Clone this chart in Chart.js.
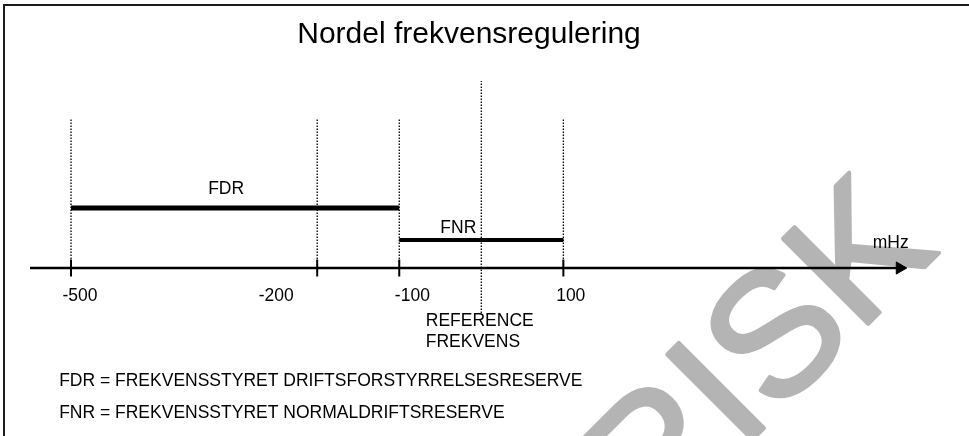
<!DOCTYPE html>
<html>
<head>
<meta charset="utf-8">
<script src="https://cdn.jsdelivr.net/npm/chart.js@4"></script>
<style>
  html, body { margin: 0; padding: 0; background: #fff; }
  #wrap { position: relative; width: 969px; height: 436px; overflow: hidden; }
  #NordelChart { position: absolute; left: 0; top: 0; }
  #frame { position: absolute; left: 3px; top: 4px; right: -10px; bottom: -10px;
           border-top: 2px solid #1c1c1c; border-left: 2px solid #1c1c1c; pointer-events: none; }
</style>
</head>
<body>
<div id="wrap">
  <canvas id="NordelChart" width="969" height="436"></canvas>
  <div id="frame"></div>
</div>
<script>
// frequency axis, mHz
var tickValues = [-500, -200, -100, 100];
var tickLabels = ['-500', '-200', '-100', '100'];
var tickLabelCentres = [-489, -250, -84, 109]; // labels sit a little off their ticks in the original
var referenceValue = 0;
var axisFrom = -550;
var axisTo = 510;

// reserve bands
var reserveNames = ['FDR', 'FNR'];
var reserveFrom = [-500, -100];
var reserveTo = [-100, 100];
var reserveLevel = [6, 2.8];
var reserveLabelX = [-311, -28];
var reserveLabelLevel = [7.9, 3.95];

var footnotes = [
  'FDR = FREKVENSSTYRET DRIFTSFORSTYRRELSESRESERVE',
  'FNR = FREKVENSSTYRET NORMALDRIFTSRESERVE'
];
var referenceText = ['REFERENCE', 'FREKVENS'];
var unitText = 'mHz';
var watermarkText = 'HISTORISK';

var FONT = '"Liberation Sans", Arial, sans-serif';

var datasets = [];

// main axis with arrow head
datasets.push({
  data: [{x: axisFrom, y: 0}, {x: axisTo, y: 0}],
  showLine: true,
  borderColor: '#000',
  borderWidth: 2.5,
  pointRadius: [0, 7],
  pointStyle: 'triangle',
  pointRotation: 90,
  pointBackgroundColor: '#000',
  pointBorderColor: '#000',
  pointBorderWidth: 1
});

// tick marks
datasets.push({
  data: tickValues.map(function (v) { return {x: v, y: 0}; }),
  showLine: false,
  pointStyle: 'line',
  pointRotation: 90,
  pointRadius: 8.5,
  pointBorderWidth: 2,
  pointBorderColor: '#000'
});

// reserve bars
reserveNames.forEach(function (name, i) {
  datasets.push({
    label: name,
    data: [{x: reserveFrom[i], y: reserveLevel[i]}, {x: reserveTo[i], y: reserveLevel[i]}],
    showLine: true,
    borderColor: '#000',
    borderWidth: i === 0 ? 5 : 4,
    borderCapStyle: 'butt',
    pointRadius: 0
  });
});

// dotted guides
tickValues.forEach(function (v) {
  datasets.push({
    data: [{x: v, y: 0}, {x: v, y: 15}],
    showLine: true,
    borderColor: '#000',
    borderWidth: 1.3,
    borderDash: [1.5, 1.5],
    pointRadius: 0
  });
});
datasets.push({
  data: [{x: referenceValue, y: -4.5}, {x: referenceValue, y: 18.7}],
  showLine: true,
  borderColor: '#000',
  borderWidth: 1.3,
  borderDash: [1.5, 1.5],
  pointRadius: 0
});

var textPlugin = {
  id: 'diagramText',
  beforeDatasetsDraw: function (chart) {
    var ctx = chart.ctx;
    ctx.save();
    ctx.translate(741, 451);
    ctx.rotate(-Math.PI / 4);
    ctx.font = '175px ' + FONT;
    ctx.fillStyle = '#b4b4b4';
    ctx.strokeStyle = '#b4b4b4';
    ctx.lineWidth = 4;
    ctx.lineJoin = 'round';
    ctx.textBaseline = 'alphabetic';
    ctx.textAlign = 'left';
    var off = ctx.measureText(watermarkText.slice(0, 6)).width;
    ctx.fillText(watermarkText, -off, 0);
    ctx.strokeText(watermarkText, -off, 0);
    ctx.restore();
  },
  afterDatasetsDraw: function (chart) {
    var ctx = chart.ctx, xs = chart.scales.x, ys = chart.scales.y;
    ctx.save();
    ctx.fillStyle = '#000';
    ctx.font = '17.5px ' + FONT;
    ctx.textBaseline = 'middle';
    ctx.textAlign = 'center';
    tickLabels.forEach(function (t, i) {
      ctx.fillText(t, xs.getPixelForValue(tickLabelCentres[i]), ys.getPixelForValue(-2.8));
    });
    reserveNames.forEach(function (t, i) {
      ctx.fillText(t, xs.getPixelForValue(reserveLabelX[i]), ys.getPixelForValue(reserveLabelLevel[i]));
    });
    ctx.fillText(unitText, xs.getPixelForValue(499), ys.getPixelForValue(2.45));
    ctx.textAlign = 'left';
    ctx.fillText(referenceText[0], xs.getPixelForValue(-67.7), ys.getPixelForValue(-5.3));
    ctx.fillText(referenceText[1], xs.getPixelForValue(-67.7), ys.getPixelForValue(-7.4));
    ctx.fillText(footnotes[0], xs.getPixelForValue(-514.5), ys.getPixelForValue(-11.27));
    ctx.fillText(footnotes[1], xs.getPixelForValue(-514.5), ys.getPixelForValue(-14.55));
    ctx.restore();
  }
};

var ctx = document.getElementById('NordelChart');
var myChart = new Chart(ctx, {
  type: 'scatter',
  data: { datasets: datasets },
  options: {
    responsive: false,
    animation: false,
    events: [],
    layout: { autoPadding: false, padding: { left: 30, right: 61, top: 0, bottom: 0 } },
    scales: {
      x: { type: 'linear', display: false, min: -550, max: 520 },
      y: { type: 'linear', display: false, min: -16.8, max: 20.6 }
    },
    plugins: {
      legend: { display: false },
      tooltip: { enabled: false },
      title: {
        display: true,
        text: 'Nordel frekvensregulering',
        color: '#000',
        font: { family: FONT, size: 30, weight: 'normal', lineHeight: 1.2 },
        padding: { top: 17, bottom: 9 }
      }
    },
    clip: false
  },
  plugins: [textPlugin]
});
</script>
</body>
</html>
